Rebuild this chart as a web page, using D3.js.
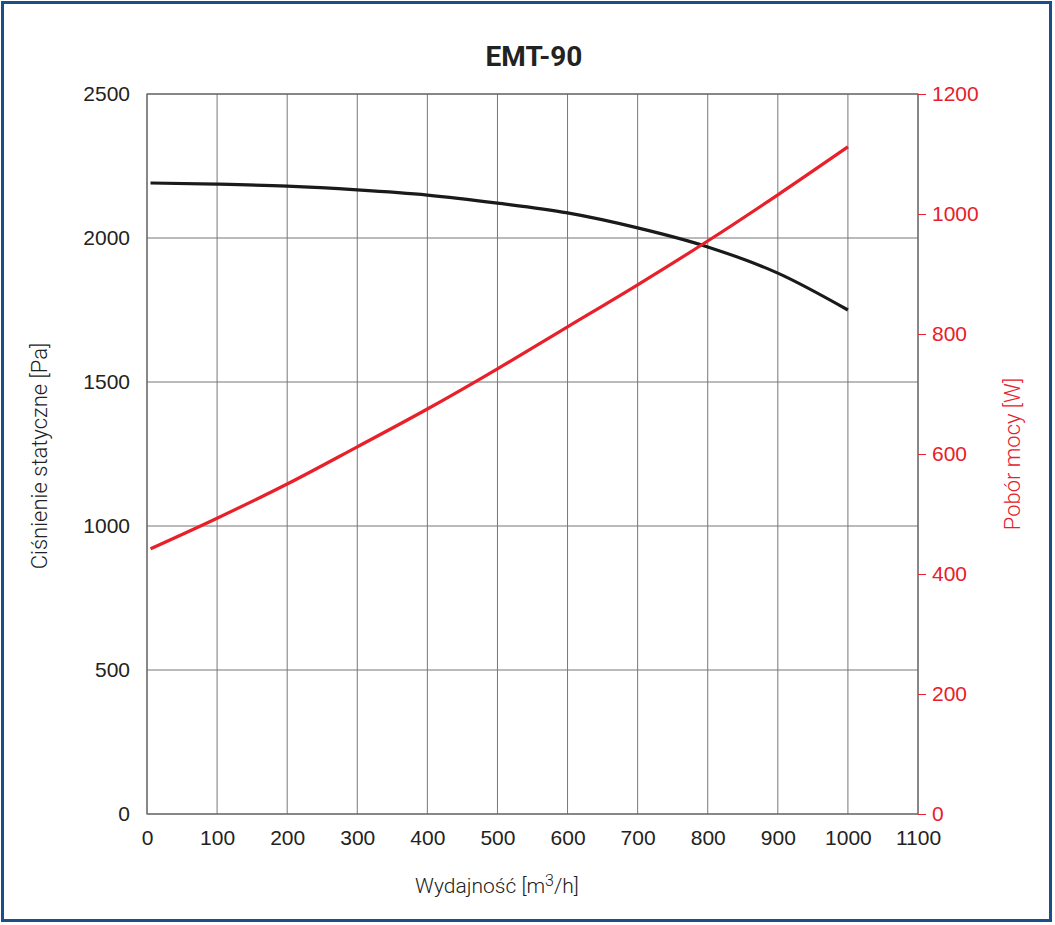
<!DOCTYPE html>
<html><head><meta charset="utf-8">
<script src="https://cdn.jsdelivr.net/npm/d3@7"></script>
<style>body{margin:0;background:#fff;}svg{display:block;font-family:Roboto,"DejaVu Sans",sans-serif;}</style>
</head><body>
<svg id="c" width="1055" height="925"></svg>
<script>
const title = "EMT-90";
const xTicks = [0,100,200,300,400,500,600,700,800,900,1000,1100];
const yLeftTicks = [0,500,1000,1500,2000,2500];
const yRightTicks = [0,200,400,600,800,1000,1200];
const flow = [5,100,200,300,400,500,600,700,800,900,1000];
const pressure = [2191,2187,2180,2167,2149,2121,2087,2035,1969,1878,1750];
const power = [442,493,550,612,675,742,812,882,955,1032,1112];

const svg = d3.select("#c");
const L=147,R=918,T=94,B=814;
const x = d3.scaleLinear().domain([0,1100]).range([L,R]);
const yl = d3.scaleLinear().domain([0,2500]).range([B,T]);
const yr = d3.scaleLinear().domain([0,1200]).range([B,T]);
const fmt = d3.format("d");

// frame
svg.append("rect").attr("x",2.5).attr("y",2.5).attr("width",1048).attr("height",918)
  .attr("fill","none").attr("stroke","#1c4f8a").attr("stroke-width",3);

// grid
const g = svg.append("g");
g.selectAll(".vx").data(xTicks).join("line").attr("x1",d=>x(d)).attr("x2",d=>x(d)).attr("y1",T).attr("y2",B).attr("stroke","#777").attr("stroke-width",1);
g.selectAll(".hy").data(yLeftTicks).join("line").attr("x1",L).attr("x2",R).attr("y1",d=>yl(d)).attr("y2",d=>yl(d)).attr("stroke","#777").attr("stroke-width",1);
svg.append("rect").attr("x",L).attr("y",T).attr("width",R-L).attr("height",B-T).attr("fill","none").attr("stroke","#666").attr("stroke-width",1.2);

// axes
const ax = svg.append("g").attr("transform",`translate(0,${B})`)
  .call(d3.axisBottom(x).tickValues(xTicks).tickFormat(fmt).tickSize(0).tickPadding(16));
ax.select(".domain").remove();
ax.selectAll("text").attr("font-size",21).attr("font-weight",300).attr("fill","#222");

const al = svg.append("g").attr("transform",`translate(${L},0)`)
  .call(d3.axisLeft(yl).tickValues(yLeftTicks).tickFormat(fmt).tickSize(0).tickPadding(17));
al.select(".domain").remove();
al.selectAll("text").attr("font-size",21).attr("font-weight",300).attr("fill","#222");

const ar = svg.append("g").attr("transform",`translate(${R},0)`)
  .call(d3.axisRight(yr).tickValues(yRightTicks).tickFormat(fmt).tickSize(8).tickPadding(6));
ar.select(".domain").remove();
ar.selectAll("line").attr("stroke","#e8202a");
ar.selectAll("text").attr("font-size",21).attr("font-weight",300).attr("fill","#e8202a");

// lines
const lp = d3.line().x((d,i)=>x(flow[i])).y(d=>yl(d)).curve(d3.curveMonotoneX);
const lw = d3.line().x((d,i)=>x(flow[i])).y(d=>yr(d)).curve(d3.curveMonotoneX);
svg.append("path").attr("d",lp(pressure)).attr("fill","none").attr("stroke","#1a1a1a").attr("stroke-width",3.2);
svg.append("path").attr("d",lw(power)).attr("fill","none").attr("stroke","#e8202a").attr("stroke-width",3.2);

// labels
svg.append("text").attr("x",534).attr("y",66).attr("text-anchor","middle").attr("font-size",28).attr("font-weight","bold").attr("fill","#222").text(title);
const xl = svg.append("text").attr("x",497).attr("y",893).attr("text-anchor","middle").attr("font-size",21).attr("font-weight",300).attr("fill","#222");
xl.append("tspan").text("Wydajność [m");
xl.append("tspan").attr("font-size",16).attr("dy",-7).text("3");
xl.append("tspan").attr("dy",7).text("/h]");
svg.append("text").attr("transform","translate(47,456) rotate(-90)").attr("text-anchor","middle").attr("font-size",22).attr("font-weight",300).attr("fill","#222").text("Ciśnienie statyczne [Pa]");
svg.append("text").attr("transform","translate(1020,454) rotate(-90)").attr("text-anchor","middle").attr("font-size",22).attr("font-weight",300).attr("fill","#e8202a").text("Pobór mocy [W]");
</script>
</body></html>
